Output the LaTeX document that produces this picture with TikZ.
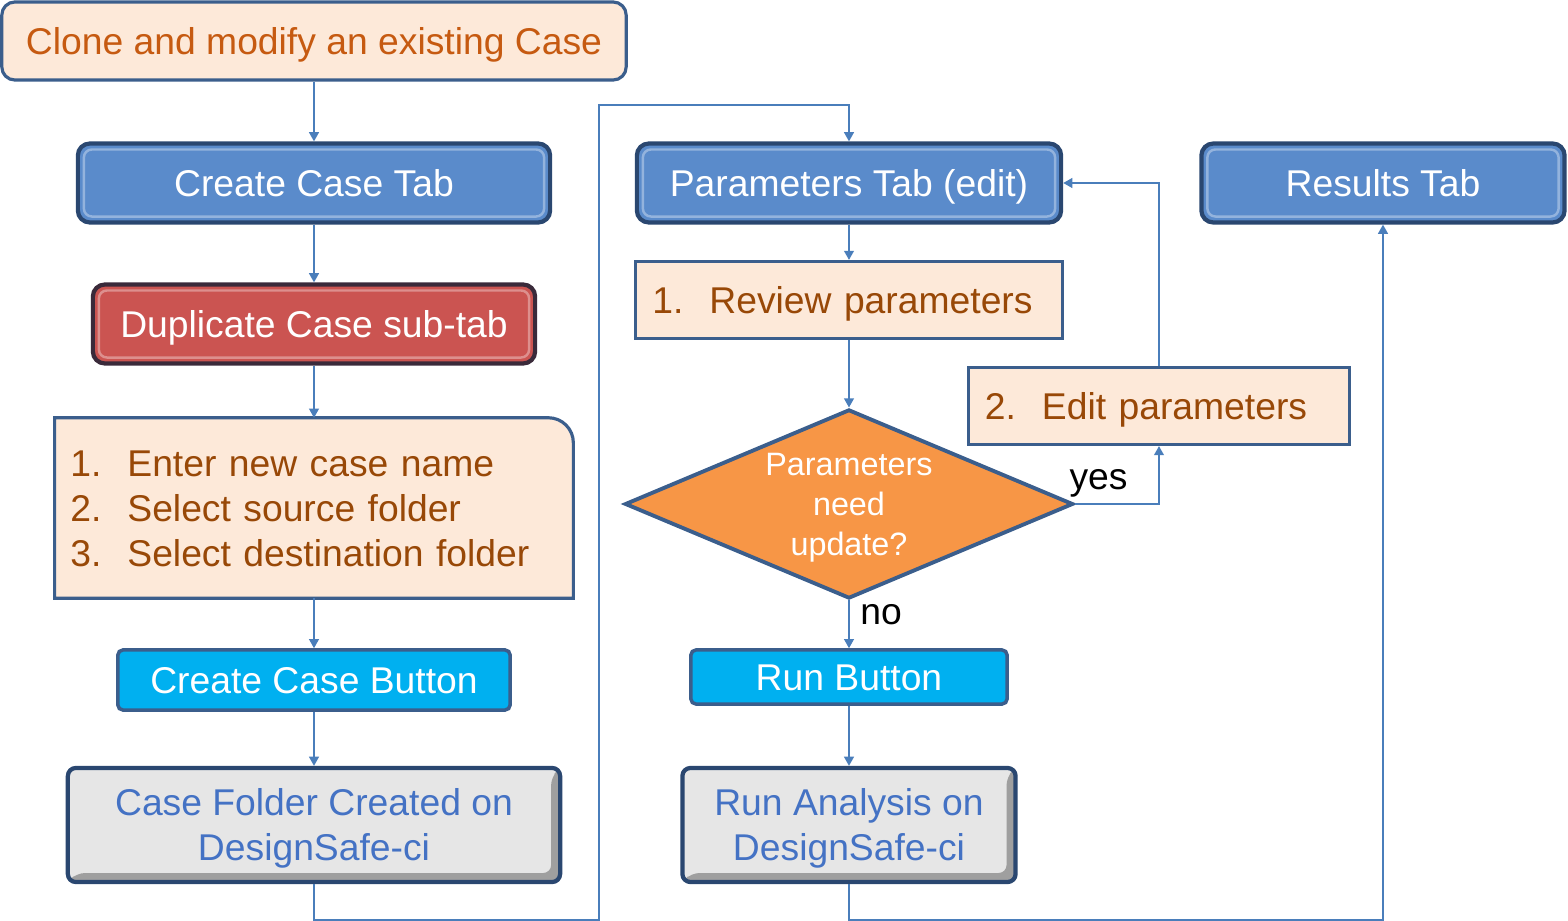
\documentclass[tikz,border=0pt]{standalone}
\usepackage{fontspec}
\setmainfont{Liberation Sans}
\usepackage{tikz}
\usetikzlibrary{positioning,
				shapes.geometric,
				arrows.meta,
				backgrounds}

\definecolor{peach}{HTML}{FDE9D9}
\definecolor{edgeblue}{HTML}{3B5E8C}
\definecolor{tabblue}{HTML}{5A8BCB}
\definecolor{tabedge}{HTML}{2A4770}
\definecolor{subred}{HTML}{CB5451}
\definecolor{subedge}{HTML}{3A2A3A}
\definecolor{btncyan}{HTML}{00B0F0}
\definecolor{boxgrey}{HTML}{E6E6E6}
\definecolor{greytext}{HTML}{4472C4}
\definecolor{decorange}{HTML}{F79646}
\definecolor{linkblue}{HTML}{4A7EBB}
\definecolor{clonetext}{HTML}{C65A11}
\definecolor{steptext}{HTML}{984807}

\tikzset{
	bigfont/.style={font=\fontsize{10.6}{12.8}\selectfont, text height=7.6pt, text depth=0pt},
	notebox/.style={bigfont, fill=peach, draw=edgeblue, line width=0.9pt, inner sep=0pt},
	tabbox/.style={bigfont, rounded corners=0.12cm, fill=tabblue, draw=tabedge, line width=1.2pt, text=white, inner sep=0pt,
		path picture={\draw[white, opacity=0.35, line width=0.7pt, rounded corners=0.08cm]
			([shift={(0.06cm,-0.06cm)}]path picture bounding box.north west) rectangle
			([shift={(-0.06cm,0.06cm)}]path picture bounding box.south east);}},
	btnbox/.style={bigfont, rounded corners=0.05cm, fill=btncyan, draw=edgeblue, line width=1pt, text=white, inner sep=0pt},
	greybox/.style={bigfont, text height=20.4pt, align=center, rounded corners=0.08cm, fill=boxgrey, draw=tabedge, line width=1.2pt, text=greytext, inner sep=0pt,
		path picture={\fill[gray!75]
			(path picture bounding box.south east) -- (path picture bounding box.north east)
			-- ++(-0.09cm,-0.09cm) |- ([shift={(0.09cm,0.09cm)}]path picture bounding box.south west)
			-- (path picture bounding box.south west) -- cycle;}},
	link/.style={linkblue, line width=0.45pt, -{Triangle[length=2.6pt,width=2.8pt]}},
	linklabel/.style={bigfont, text=black}
}

\newcommand{\stepnum}[1]{\makebox[0.57cm][l]{#1}}

\begin{document}
\begin{tikzpicture}[x=0.01cm,y=-0.01cm]
	\useasboundingbox (0,0) rectangle (1568,921);

	\node[notebox, rounded corners=0.13cm, text=clonetext, minimum width=6.24cm, minimum height=0.78cm] (clone) at (314,41) {Clone and modify an existing Case};
	\node[tabbox, minimum width=4.72cm, minimum height=0.79cm] (createtab) at (314,183) {Create Case Tab};
	\node[tabbox, fill=subred, draw=subedge, minimum width=4.42cm, minimum height=0.79cm] (duplicate) at (314,324) {Duplicate Case sub-tab};
	\node[bigfont, text depth=25.6pt, text=steptext, minimum width=5.17cm, minimum height=1.79cm, text width=4.87cm, align=left, inner xsep=0.15cm, inner ysep=0pt] (steps) at (314,508)
		{\stepnum{1.}Enter new case name\\ \stepnum{2.}Select source folder\\ \stepnum{3.}Select destination folder};
	\begin{pgfonlayer}{background}
		\filldraw[fill=peach, draw=edgeblue, line width=0.9pt] (steps.south west) -- (steps.north west) -- ([xshift=-0.25cm]steps.north east)
			arc (90:0:0.25cm) -- (steps.south east) -- cycle;
	\end{pgfonlayer}
	\node[btnbox, minimum width=3.92cm, minimum height=0.60cm] (createbtn) at (314,680) {Create Case Button};
	\node[greybox, minimum width=4.92cm, minimum height=1.14cm] (casefolder) at (314,825) {Case Folder Created on\\DesignSafe-ci};

	\node[tabbox, minimum width=4.24cm, minimum height=0.79cm] (paramtab) at (849,183) {Parameters Tab (edit)};
	\node[notebox, text=steptext, minimum width=4.27cm, minimum height=0.77cm, text width=3.93cm, align=left, inner xsep=0.17cm] (review) at (849,300)
		{\stepnum{1.}Review parameters};
	\node[diamond, aspect=2.37, fill=decorange, draw=edgeblue, line width=1.1pt, text=white, inner sep=0pt, align=center,
		minimum width=4.48cm, minimum height=1.89cm, font=\fontsize{9.2}{11.4}\selectfont, text height=29.4pt, text depth=0pt] (decide) at (849,504)
		{Parameters\\need\\update?};
	\node[notebox, text=steptext, minimum width=3.80cm, minimum height=0.77cm, text width=3.48cm, align=left, inner xsep=0.16cm] (edit) at (1159,406)
		{\stepnum{2.}Edit parameters};
	\node[btnbox, minimum width=3.16cm, minimum height=0.54cm] (runbtn) at (849,677) {Run Button};
	\node[greybox, minimum width=3.33cm, minimum height=1.14cm] (runanalysis) at (849,825) {Run Analysis on\\DesignSafe-ci};

	\node[tabbox, minimum width=3.63cm, minimum height=0.79cm] (results) at (1383,183) {Results Tab};

	\coordinate (turn) at (599,105);

	\draw[link] (clone) -- (createtab);
	\draw[link] (createtab) -- (duplicate);
	\draw[link] (duplicate) -- (steps);
	\draw[link] (steps) -- (createbtn);
	\draw[link] (createbtn) -- (casefolder);
	\draw[link] (casefolder.south) -- ++(0,36) -| (turn) -| (paramtab.north);
	\draw[link] (paramtab) -- (review);
	\draw[link] (review) -- (decide);
	\draw[link] (decide.east) -| node[pos=0.14, above, linklabel, inner sep=4pt] {yes} (edit.south);
	\draw[link] (edit.north) |- (paramtab.east);
	\draw[link] (decide.south) -- node[pos=0.22, right, linklabel, inner sep=3pt] {no} (runbtn.north);
	\draw[link] (runbtn) -- (runanalysis);
	\draw[link] (runanalysis.south) -- ++(0,36) -| (results.south);
\end{tikzpicture}
\end{document}
